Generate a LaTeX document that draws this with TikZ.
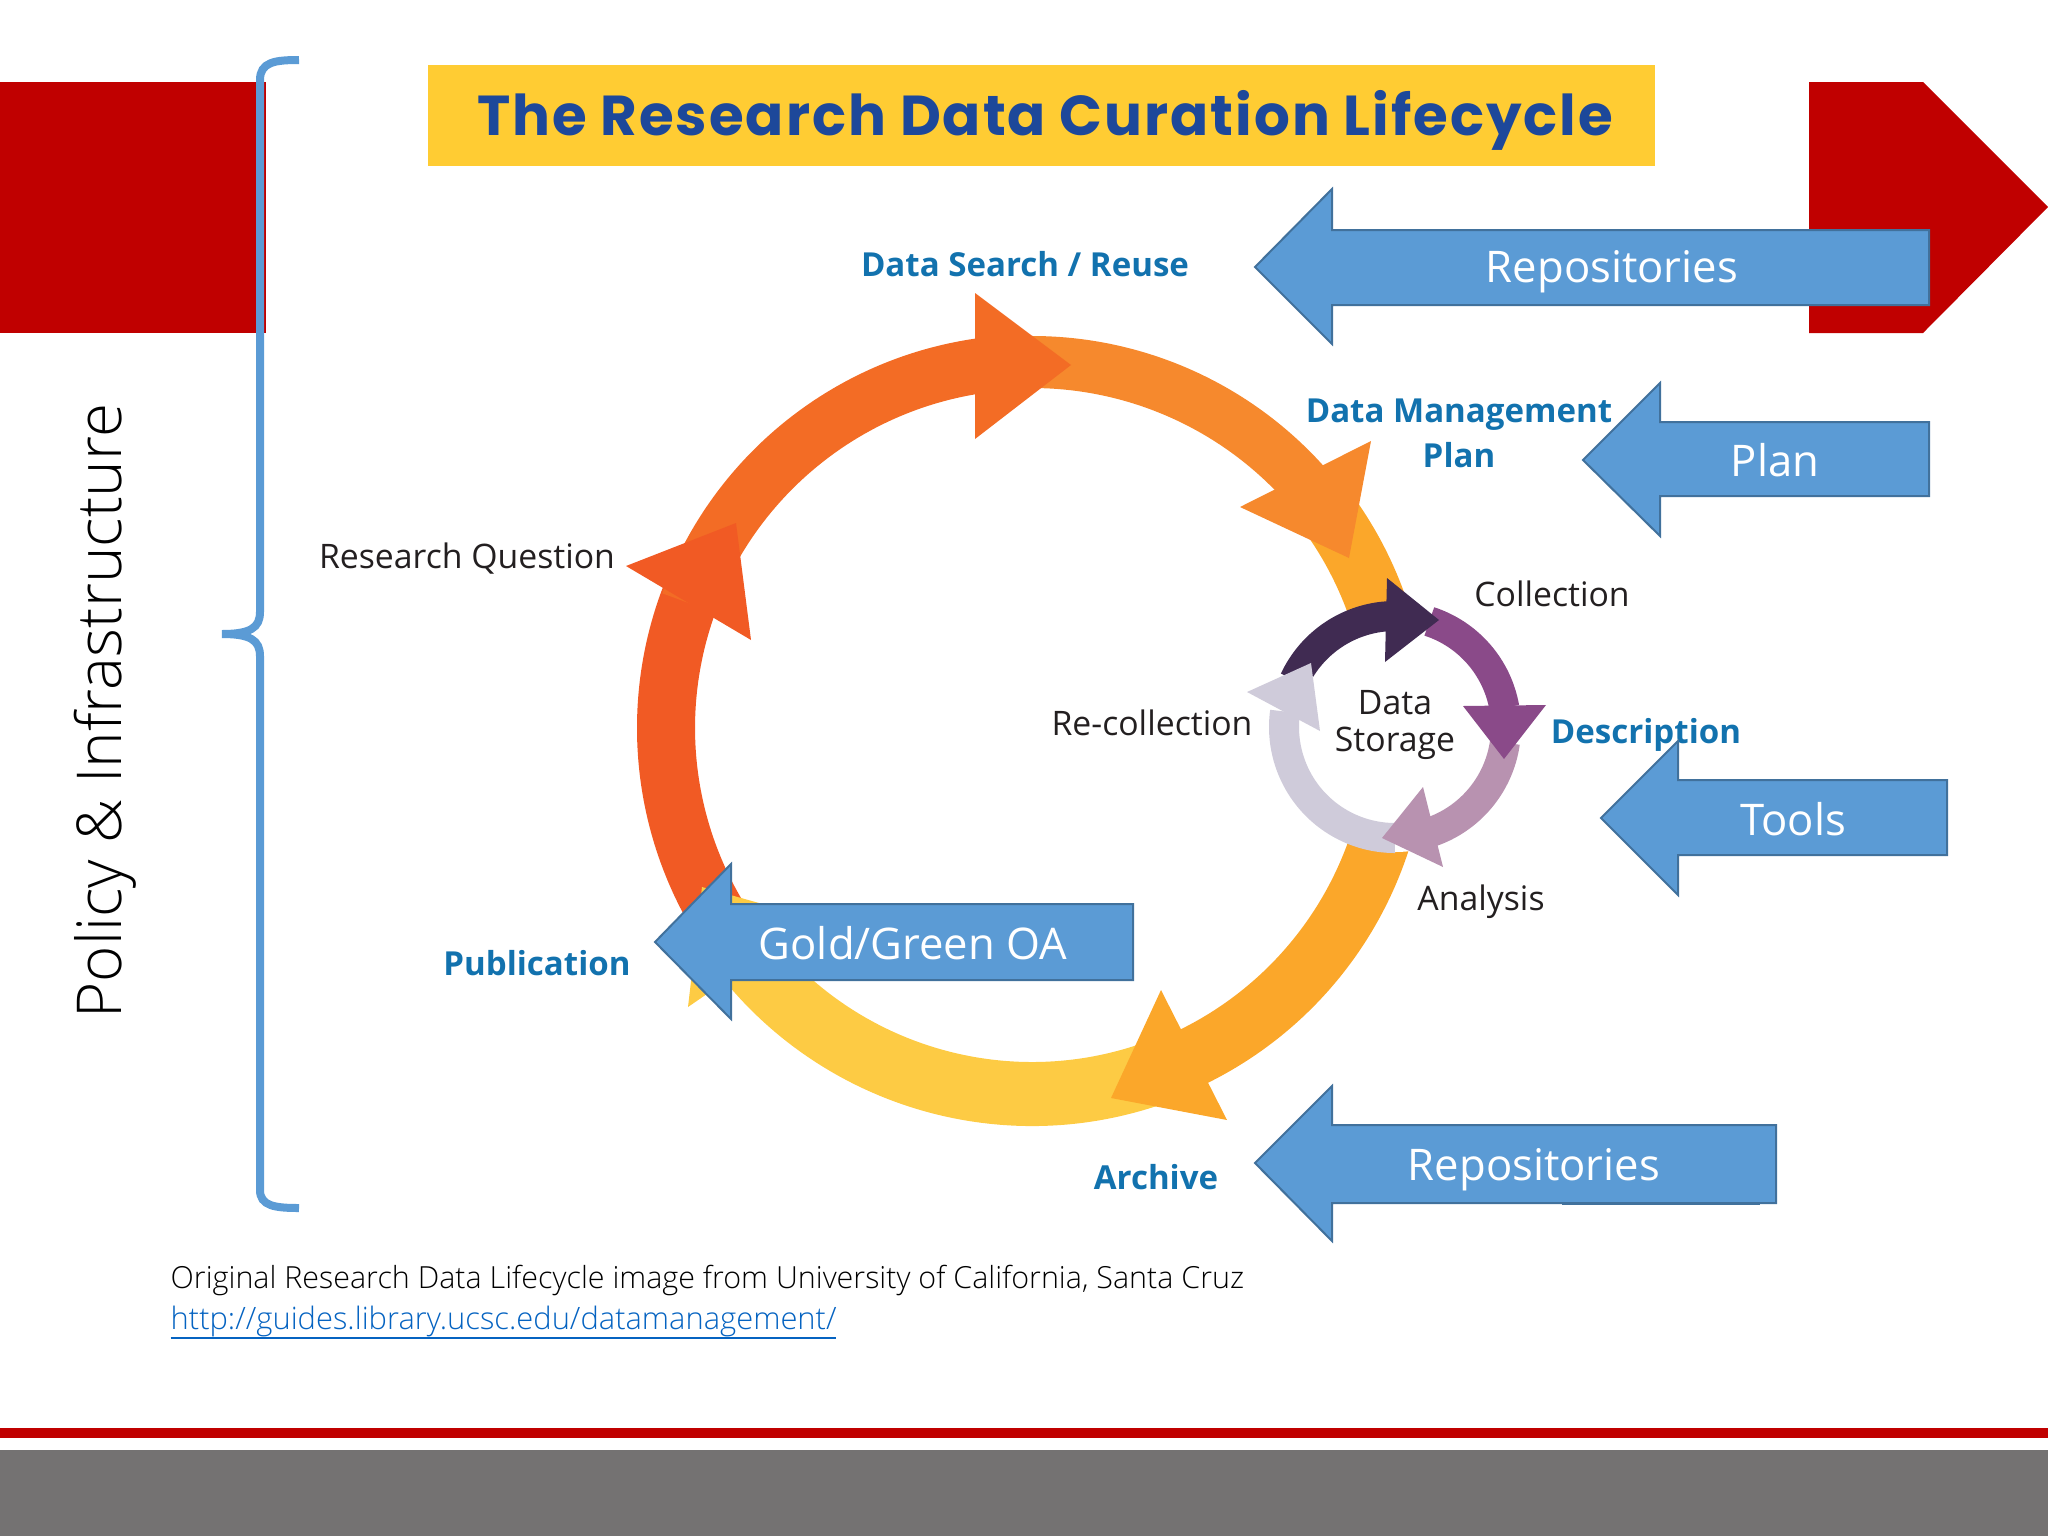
\documentclass[tikz,border=0pt]{standalone}
\usepackage{fontspec}
\setmainfont{Open Sans}
\newfontfamily\titlefont[LetterSpace=3.5]{Poppins}
\newfontfamily\lightfont{Open Sans Light}
\usepackage{tikz}
\definecolor{slidered}{HTML}{C00000}
\definecolor{slidegray}{HTML}{747272}
\definecolor{bluefill}{HTML}{5B9BD5}
\definecolor{blueedge}{HTML}{41719C}
\definecolor{labelblue}{HTML}{1272AE}
\definecolor{labelblack}{HTML}{231F20}
\definecolor{titleyellow}{HTML}{FFCC33}
\definecolor{titleblue}{HTML}{1D489A}
\definecolor{linkblue}{HTML}{0563C1}
\definecolor{ringred}{HTML}{F15A24}
\definecolor{ringdeep}{HTML}{F36C25}
\definecolor{ringorange}{HTML}{F6892D}
\definecolor{ringamber}{HTML}{FBA72A}
\definecolor{ringyellow}{HTML}{FDCB44}
\definecolor{smalldark}{HTML}{402B52}
\definecolor{smallpurple}{HTML}{8A4A89}
\definecolor{smallmauve}{HTML}{B892B0}
\definecolor{smallgray}{HTML}{CFCBDA}
\tikzset{
  bluearrow/.style={draw=blueedge,fill=bluefill,line width=0.02cm},
  bluetext/.style={text=white,font=\fontsize{12.4}{14}\selectfont,inner sep=0pt},
  plainlabel/.style={text=labelblack,font=\fontsize{9.6}{10.4}\selectfont,inner sep=0pt,align=center},
  boldlabel/.style={text=labelblue,font=\fontsize{9.4}{12.8}\selectfont\bfseries,inner sep=0pt,align=center},
  ringpart/.style={line width=#1}
}

\begin{document}
\begin{tikzpicture}[x=0.01cm,y=-0.01cm]
      \useasboundingbox (0,0) rectangle (2048,1536);
      %slide furniture
      \fill[slidered] (0,82) rectangle (266,333);
      \fill[slidered] (1809,82) -- (1923,82) -- (2048,207) -- (1923,333) -- (1809,333) -- cycle;
      \fill[slidered] (0,1428) rectangle (2048,1438);
      \fill[slidegray] (0,1450) rectangle (2048,1536);
      %title
      \fill[titleyellow] (428,65) rectangle (1655,166);
      \node[inner sep=0pt,text=titleblue,font=\titlefont\bfseries\fontsize{16}{18}\selectfont] (title) at (1045,120) {The Research Data Curation Lifecycle};
      %brace
      \draw[color=bluefill,line width=0.08cm] (299,60) .. controls (275,60) and (260,62) .. (260,80) -- (260,612) .. controls (260,628) and (250,634) .. (222,634) .. controls (250,634) and (260,640) .. (260,656) -- (260,1190) .. controls (260,1206) and (275,1208) .. (299,1208);
      \node[rotate=90,inner sep=0pt,font=\lightfont\fontsize{17.6}{20}\selectfont] (policy) at (105,711) {Policy \& Infrastructure};
      %big ring
      \draw[ringpart=0.64cm,color=ringyellow] (1032,728) ++(68:366) arc[start angle=68,end angle=145,radius=366];
      \draw[ringpart=0.58cm,color=ringred] (1032,728) ++(145:366) arc[start angle=145,end angle=205,radius=366];
      \draw[ringpart=0.55cm,color=ringdeep] (1032,728) ++(200:366) arc[start angle=200,end angle=262,radius=366];
      \draw[ringpart=0.52cm,color=ringorange] (1032,728) ++(-95:366) arc[start angle=-95,end angle=-42,radius=366];
      \draw[ringpart=0.60cm,color=ringamber] (1032,728) ++(-40:366) arc[start angle=-40,end angle=68,radius=366];
      \fill[ringyellow] (702,887) -- (688,1007) -- (816,919) -- cycle;
      \fill[ringred] (736,523) -- (626,566) -- (751,640) -- cycle;
      \fill[ringdeep] (1071,365) -- (975,293) -- (975,439) -- cycle;
      \fill[ringorange] (1349,558) -- (1371,441) -- (1240,507) -- cycle;
      \fill[ringamber] (1111,1098) -- (1161,990) -- (1227,1120) -- cycle;
      %small ring
      \fill[white] (1395,727) circle[radius=125];
      \draw[ringpart=0.30cm,color=smalldark] (1395,727) ++(205:111) arc[start angle=205,end angle=268,radius=111];
      \draw[ringpart=0.30cm,color=smallpurple] (1395,727) ++(-72:111) arc[start angle=-72,end angle=-10,radius=111];
      \draw[ringpart=0.30cm,color=smallmauve] (1395,727) ++(8:111) arc[start angle=8,end angle=72,radius=111];
      \draw[ringpart=0.30cm,color=smallgray] (1395,727) ++(90:111) arc[start angle=90,end angle=188,radius=111];
      \fill[smallgray] (1311,663) -- (1247,692) -- (1320,731) -- cycle;
      \fill[smalldark] (1439,620) -- (1387,578) -- (1385,662) -- cycle;
      \fill[smallpurple] (1504,759) -- (1546,705) -- (1463,706) -- cycle;
      \fill[smallmauve] (1382,838) -- (1423,787) -- (1443,867) -- cycle;
      %labels
      \node[boldlabel] (search) at (1025,264) {Data Search / Reuse};
      \node[boldlabel] (dmp) at (1459,433) {Data Management\\Plan};
      \node[plainlabel] (question) at (467,559) {Research Question};
      \node[plainlabel] (collection) at (1552,594) {Collection};
      \node[boldlabel] (description) at (1646,735) {Description};
      \node[plainlabel] (storage) at (1395,725) {Data\\Storage};
      \node[plainlabel] (recollection) at (1152,723) {Re-collection};
      \node[plainlabel] (analysis) at (1481,902) {Analysis};
      \node[boldlabel] (publication) at (537,963) {Publication};
      \node[boldlabel] (archive) at (1156,1177) {Archive};
      %blue arrows
      \draw[bluearrow] (1255,267) -- (1332,189) -- (1332,230) -- (1929,230) -- (1929,305) -- (1332,305) -- (1332,344) -- cycle;
      \node[bluetext] (repotop) at (1612,272) {Repositories};
      \draw[bluearrow] (1583,460) -- (1660,383) -- (1660,422) -- (1929,422) -- (1929,496) -- (1660,496) -- (1660,536) -- cycle;
      \node[bluetext] (plan) at (1775,460) {Plan};
      \draw[bluearrow] (1601,818) -- (1678,741) -- (1678,780) -- (1947,780) -- (1947,855) -- (1678,855) -- (1678,895) -- cycle;
      \node[bluetext] (tools) at (1793,819) {Tools};
      \draw[bluearrow] (655,942) -- (731,864) -- (731,904) -- (1133,904) -- (1133,980) -- (731,980) -- (731,1019) -- cycle;
      \node[bluetext] (oa) at (913,943) {Gold/Green OA};
      \draw[blueedge,line width=0.02cm] (1562,1204) -- (1760,1204);
      \draw[bluearrow] (1255,1163) -- (1332,1086) -- (1332,1125) -- (1776,1125) -- (1776,1203) -- (1332,1203) -- (1332,1241) -- cycle;
      \node[bluetext] (repobottom) at (1534,1170) {Repositories};
      %source
      \node[anchor=base west,inner sep=0pt,font=\lightfont\fontsize{8.66}{10}\selectfont] (source) at (170,1288) {Original Research Data Lifecycle image from University of California, Santa Cruz};
      \node[anchor=base west,inner sep=0pt,text=linkblue,font=\lightfont\fontsize{8.78}{10}\selectfont] (link) at (170,1329) {\underline{\smash{http://guides.library.ucsc.edu/datamanagement/}\rule[-1.1pt]{0pt}{1.1pt}}};
    \end{tikzpicture}
\end{document}
